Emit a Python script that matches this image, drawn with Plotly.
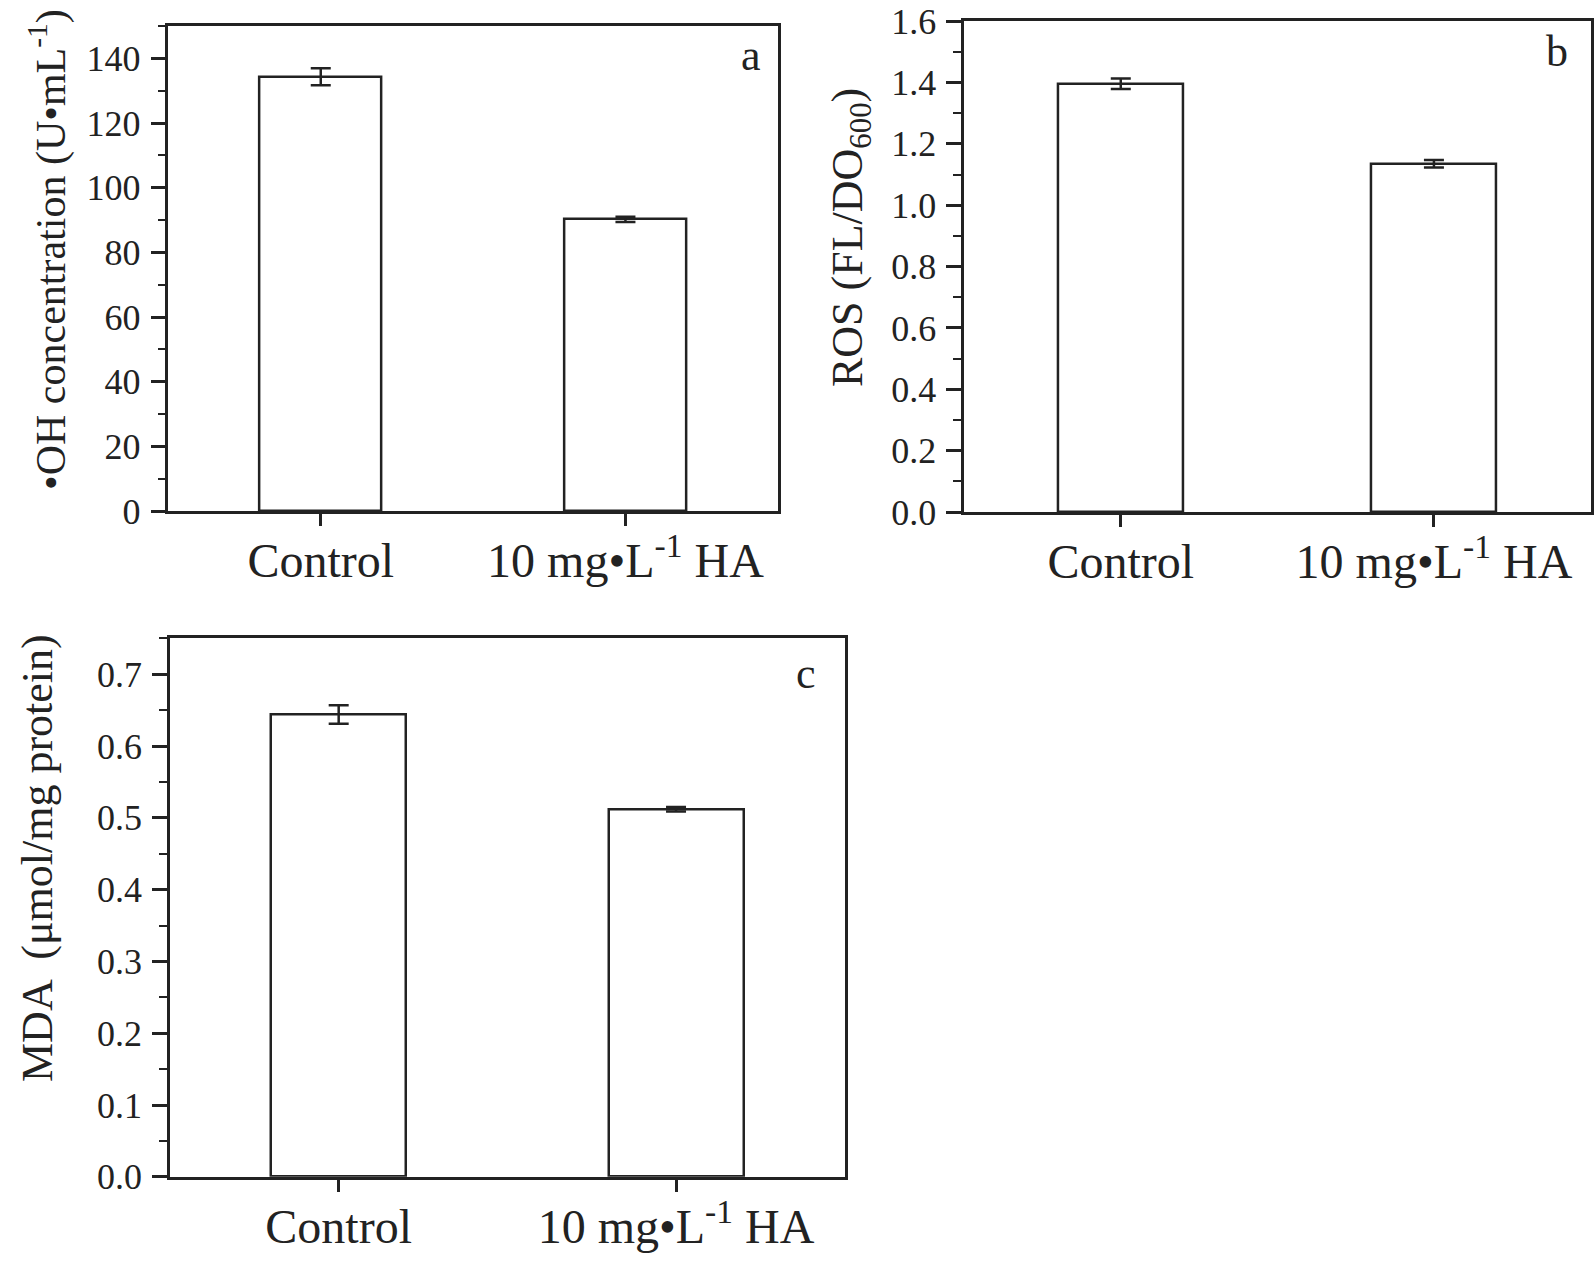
import plotly.graph_objects as go

categories = ["Control", "10 mg•L<sup>-1</sup> HA"]

oh_values = [134.3, 90.2]
oh_errors = [2.6, 0.8]

ros_values = [1.396, 1.135]
ros_errors = [0.017, 0.012]

mda_values = [0.644, 0.512]
mda_errors = [0.013, 0.003]

W, H = 1594, 1261
FONT = "Liberation Serif"
BLACK = "#222222"

def px_x(v):
    return v / W

def px_y(v):
    return 1 - v / H

fig = go.Figure()

panels = [
    ("x", "y", oh_values, oh_errors),
    ("x2", "y2", ros_values, ros_errors),
    ("x3", "y3", mda_values, mda_errors),
]
for xa, ya, vals, errs in panels:
    fig.add_trace(go.Bar(
        x=categories, y=vals, xaxis=xa, yaxis=ya, width=0.4,
        marker=dict(color="white", line=dict(color=BLACK, width=2.5)),
        error_y=dict(type="data", array=errs, visible=True,
                     color=BLACK, thickness=2.5, width=10),
        showlegend=False,
    ))

xcommon = dict(type="category", range=[-0.5, 1.5], showline=True, mirror=True,
               linecolor=BLACK, linewidth=2.5, ticks="outside", ticklen=12,
               tickwidth=2.5, tickcolor=BLACK, showgrid=False, zeroline=False,
               automargin=False, ticklabelstandoff=-6,
               tickfont=dict(family=FONT, size=48, color=BLACK))
ycommon = dict(showline=True, mirror=True, linecolor=BLACK, linewidth=2.5,
               ticks="outside", ticklen=15, tickwidth=2.5, tickcolor=BLACK,
               showgrid=False, zeroline=False, ticklabelstandoff=3,
               automargin=False, ticklabeloverflow="allow",
               tickfont=dict(family=FONT, size=36, color=BLACK))

def minor(dt):
    return dict(ticks="outside", ticklen=8, tickwidth=2, tickcolor=BLACK, dtick=dt)

fig.update_layout(
    width=W, height=H,
    margin=dict(l=0, r=0, t=0, b=0, autoexpand=False),
    paper_bgcolor="white", plot_bgcolor="white",
    font=dict(family=FONT, color=BLACK),
    bargap=0,
    xaxis=dict(xcommon, domain=[px_x(168.4), px_x(777.8)], anchor="y"),
    yaxis=dict(ycommon, domain=[px_y(511), px_y(26)], anchor="x",
               range=[0, 150], dtick=20, tick0=0, minor=minor(10)),
    xaxis2=dict(xcommon, domain=[px_x(964.2), px_x(1590.5)], anchor="y2"),
    yaxis2=dict(ycommon, domain=[px_y(512), px_y(21)], anchor="x2",
                range=[0, 1.6005], dtick=0.2, tick0=0, tickformat=".1f", minor=minor(0.1)),
    xaxis3=dict(xcommon, domain=[px_x(170), px_x(844.7)], anchor="y3"),
    yaxis3=dict(ycommon, domain=[px_y(1176.8), px_y(638.4)], anchor="x3",
                range=[0, 0.75], dtick=0.1, tick0=0, tickformat=".1f", minor=minor(0.05)),
)

titles = [
    ("•OH concentration (U•mL<sup>-1</sup>)", 48, 250, 42),
    ("ROS (FL/DO<sub>600</sub>)", 850, 238, 44),
    ("MDA  (μmol/mg protein)", 37, 858, 44),
]
for text, xpx, ypx, fs in titles:
    fig.add_annotation(text=text, xref="paper", yref="paper",
                       x=px_x(xpx), y=px_y(ypx), xanchor="center", yanchor="middle",
                       textangle=-90, showarrow=False,
                       font=dict(family=FONT, size=fs, color=BLACK))

letters = [("a", 751, 56), ("b", 1557, 52), ("c", 806, 673)]
for text, xpx, ypx in letters:
    fig.add_annotation(text=text, xref="paper", yref="paper",
                       x=px_x(xpx), y=px_y(ypx), xanchor="center", yanchor="middle",
                       showarrow=False, font=dict(family=FONT, size=44, color=BLACK))

fig.write_html("out.html",
               config={"displayModeBar": False},
               post_script="document.body.style.margin='0';document.body.style.overflow='hidden';")
